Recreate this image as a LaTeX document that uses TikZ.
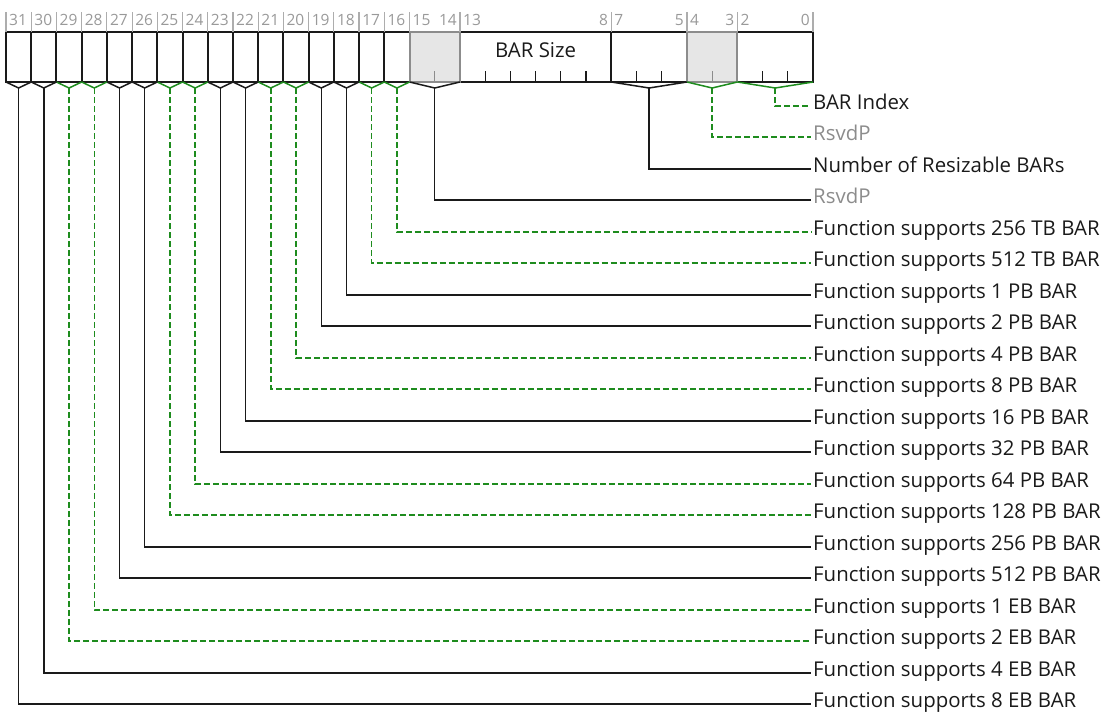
\documentclass[tikz,border=0pt]{standalone}
\usepackage{fontspec}
\setmainfont{Open Sans}
\usetikzlibrary{calc}
\definecolor{regblack}{HTML}{1A1A1A}
\definecolor{rsvdgray}{HTML}{8C8C8C}
\definecolor{rsvdfill}{HTML}{E6E6E6}
\definecolor{numgray}{HTML}{999999}
\definecolor{hwgreen}{HTML}{1E8C1E}

\begin{document}
\begin{tikzpicture}[x=1pt,y=-1pt,
  field/.style={draw=regblack,line width=2pt,minimum height=50pt,inner sep=0pt,
                outer sep=0pt,anchor=north west},
  rsvdfield/.style={field,draw=rsvdgray,fill=rsvdfill},
  bitnum/.style={text=numgray,font=\fontsize{15.5}{17}\selectfont,inner xsep=3pt,inner ysep=0pt},
  divider/.style={draw=numgray!80,line width=1.2pt},
  tick/.style={line width=1.3pt},
  lbl/.style={anchor=west,inner xsep=2pt,inner ysep=0pt,text height=0.72em,text depth=0pt,
              font=\fontsize{20.4}{24}\selectfont,text=regblack},
  rsvdlbl/.style={lbl,text=rsvdgray},
  conn/.style={draw=regblack,line width=1.5pt},
  hwconn/.style={draw=hwgreen,line width=1.5pt,dash pattern=on 6pt off 3pt}]
\useasboundingbox (0,0) rectangle (1107,717);
\def\bw{25.22}
\foreach \hi/\lo/\fs in {31/31/field,30/30/field,29/29/field,28/28/field,27/27/field,
                         26/26/field,25/25/field,24/24/field,23/23/field,22/22/field,
                         21/21/field,20/20/field,19/19/field,18/18/field,17/17/field,
                         16/16/field,13/8/field,7/5/field,2/0/field,
                         15/14/rsvdfield,4/3/rsvdfield}
  \node[\fs,minimum width={(\hi-\lo+1)*\bw*1pt}] (f\hi) at ({6+(31-\hi)*\bw},32) {};
\node[lbl,anchor=center] (barsize) at ($(f13.center)+(0,-3)$) {BAR Size};
\foreach \hi/\n/\col in {15/1/rsvdgray,13/5/regblack,7/2/regblack,4/1/rsvdgray,2/2/regblack}
  \foreach \k in {1,...,\n}
    \draw[tick,draw=\col] ($(f\hi.south west)+(\k*\bw,0)$) -- ++(0,-11);
\foreach \hi in {31,30,29,28,27,26,25,24,23,22,21,20,19,18,17,16,15,13,7,4,2} {
  \draw[divider] (f\hi.north west) -- ++(0,-20);
  \node[bitnum,anchor=base west] (n\hi) at ($(f\hi.north west)+(0,-6)$) {\hi};
}
\draw[divider] (f2.north east) -- ++(0,-20);
\foreach \hi/\lo in {15/14,13/8,7/5,4/3,2/0}
  \node[bitnum,anchor=base east] (n\lo) at ($(f\hi.north east)+(0,-6)$) {\lo};
\foreach \hi/\row/\ls/\cs/\txt in {
    2/0/lbl/hwconn/BAR Index,
    4/1/rsvdlbl/hwconn/RsvdP,
    7/2/lbl/conn/Number of Resizable BARs,
    15/3/rsvdlbl/conn/RsvdP,
    16/4/lbl/hwconn/Function supports 256 TB BAR,
    17/5/lbl/hwconn/Function supports 512 TB BAR,
    18/6/lbl/conn/Function supports 1 PB BAR,
    19/7/lbl/conn/Function supports 2 PB BAR,
    20/8/lbl/hwconn/Function supports 4 PB BAR,
    21/9/lbl/hwconn/Function supports 8 PB BAR,
    22/10/lbl/conn/Function supports 16 PB BAR,
    23/11/lbl/conn/Function supports 32 PB BAR,
    24/12/lbl/hwconn/Function supports 64 PB BAR,
    25/13/lbl/hwconn/Function supports 128 PB BAR,
    26/14/lbl/conn/Function supports 256 PB BAR,
    27/15/lbl/conn/Function supports 512 PB BAR,
    28/16/lbl/hwconn/Function supports 1 EB BAR,
    29/17/lbl/hwconn/Function supports 2 EB BAR,
    30/18/lbl/conn/Function supports 4 EB BAR,
    31/19/lbl/conn/Function supports 8 EB BAR} {
  \node[\ls] (l\hi) at (811,{106+int(31.5*\row)}) {\txt};
  \coordinate (v\hi) at ($(f\hi.south)+(0,6)$);
  \draw[\cs,solid] (f\hi.south west) -- (v\hi) -- (f\hi.south east);
  \draw[\cs] (v\hi) |- (l\hi.west);
}
\end{tikzpicture}
\end{document}
